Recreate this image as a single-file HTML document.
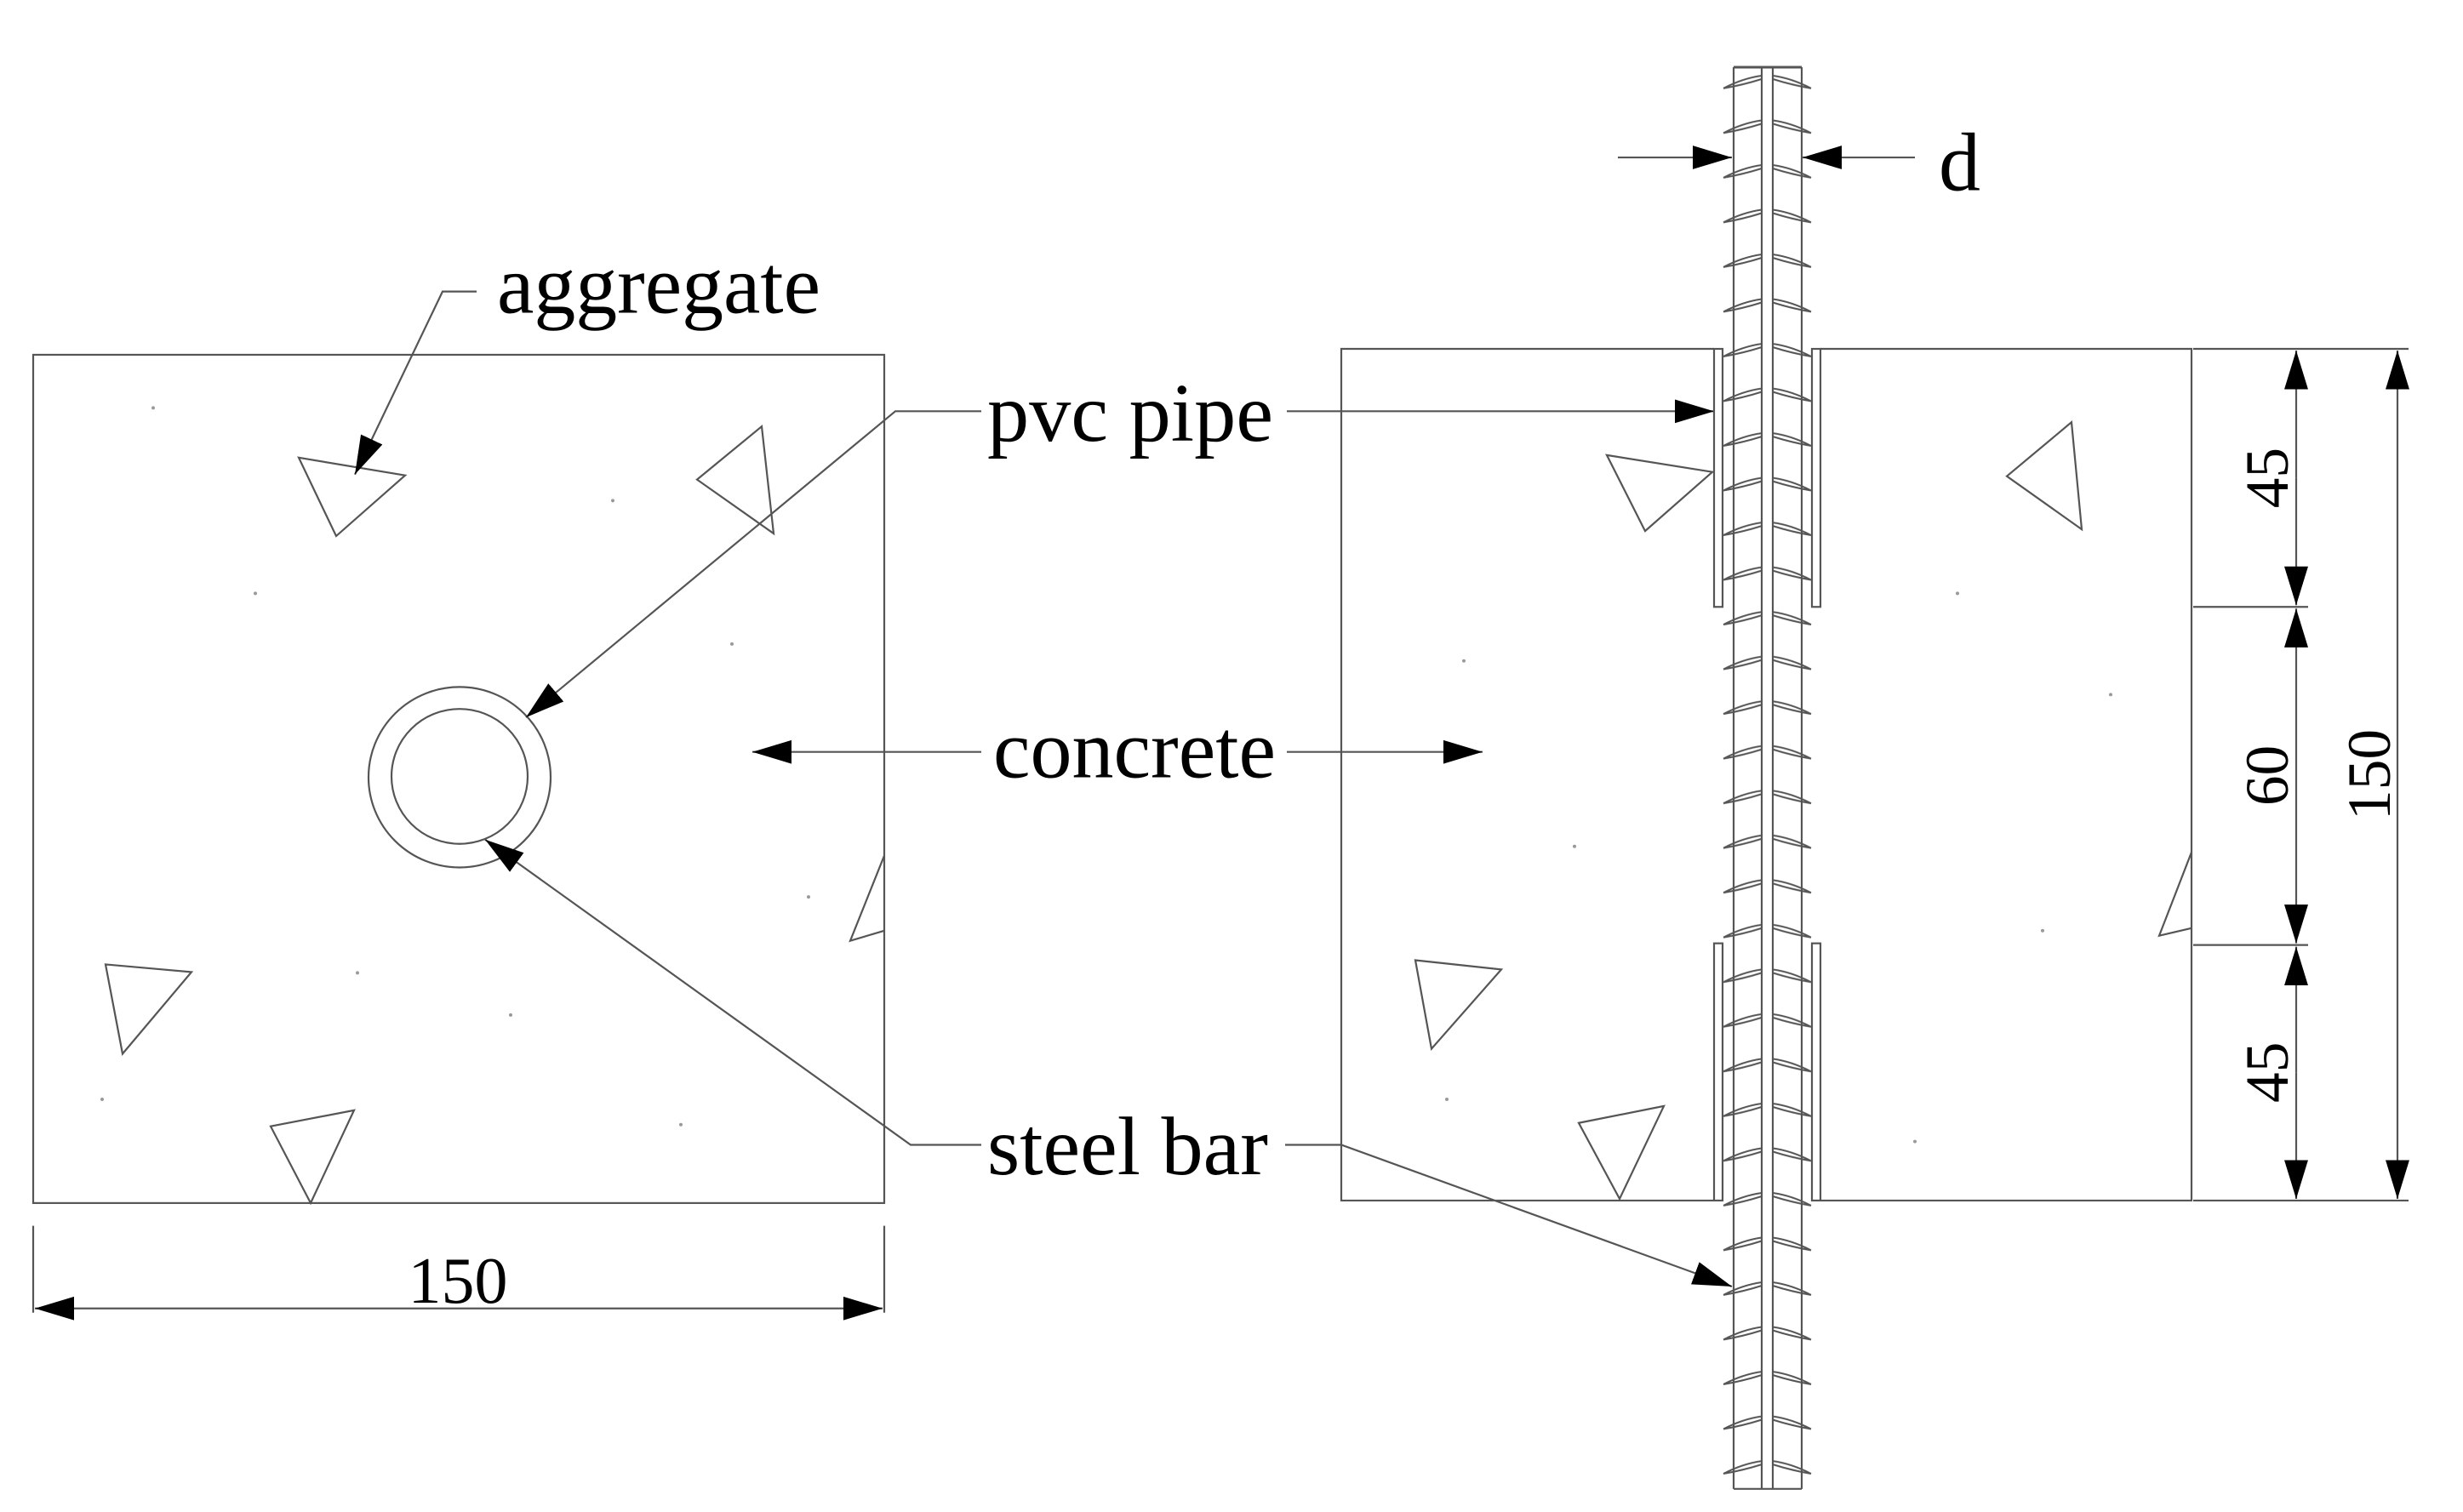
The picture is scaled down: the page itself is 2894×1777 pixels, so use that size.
<!DOCTYPE html>
<html><head><meta charset="utf-8"><style>
html,body{margin:0;padding:0;background:#fff;}
svg{display:block;}
text{font-family:"Liberation Serif","Times New Roman",serif;fill:#000;}
</style></head><body>
<svg width="2894" height="1777" viewBox="0 0 2894 1777" xmlns="http://www.w3.org/2000/svg">
<defs>
<marker id="ah" markerUnits="userSpaceOnUse" viewBox="0 -15 48 30" refX="46" refY="0" markerWidth="48" markerHeight="30" orient="auto">
<path d="M0,-14 L46,0 L0,14 z" fill="#000"/>
</marker>
<pattern id="ribs" patternUnits="userSpaceOnUse" width="120" height="53" patternTransform="translate(2020,80)">
<g fill="none" stroke="#555" stroke-width="2">
<path d="M5,21 Q28,9 50,6 M5,21 Q28,17 50,10"/>
<path d="M63,6 Q85,9 108,21 M63,10 Q85,17 108,21"/>
</g>
</pattern>
</defs>
<rect width="2894" height="1777" fill="#fff"/>
<g transform="translate(0,3.7) scale(1,0.991)">
<g fill="none" stroke="#555" stroke-width="2.2">
<rect x="39" y="417" width="1000" height="1006"/>
<circle cx="540" cy="918" r="107"/>
<circle cx="540" cy="917" r="80"/>
<polygon points="351,539 476,560 395,632"/>
<polygon points="819,565 895,502 909,629"/>
<polygon points="124,1140 225,1149 144,1246"/>
<polygon points="318,1332 416,1313 365,1423"/>
<polyline points="1039,1011 999,1112 1039,1100"/>
<line x1="39" y1="1450" x2="39" y2="1553"/>
<line x1="1039" y1="1450" x2="1039" y2="1553"/>
<line x1="539" y1="1548" x2="41" y2="1548" marker-end="url(#ah)"/>
<line x1="539" y1="1548" x2="1037" y2="1548" marker-end="url(#ah)"/>
<polyline points="560,342 520,342 417,559" marker-end="url(#ah)"/>
<polyline points="1153,484 1052,484 618,847" marker-end="url(#ah)"/>
<line x1="1153" y1="888" x2="884" y2="888" marker-end="url(#ah)"/>
<polyline points="1153,1354 1070,1354 570,992" marker-end="url(#ah)"/>
<line x1="1512" y1="484" x2="2014" y2="484" marker-end="url(#ah)"/>
<line x1="1512" y1="888" x2="1742" y2="888" marker-end="url(#ah)"/>
<polyline points="1510,1354 1576,1354 2035,1522" marker-end="url(#ah)"/>
<polyline points="2014,410 1576,410 1576,1420 2014,1420"/>
<polyline points="2139,410 2575,410 2575,1420 2139,1420"/>
<rect x="2014" y="410" width="10" height="306"/>
<rect x="2129" y="410" width="10" height="306"/>
<rect x="2014" y="1115" width="10" height="305"/>
<rect x="2129" y="1115" width="10" height="305"/>
<polygon points="1888,536 2012,556 1933,626"/>
<polygon points="2358,561 2434,497 2446,624"/>
<polygon points="1663,1135 1764,1146 1682,1240"/>
<polygon points="1855,1328 1955,1308 1903,1418"/>
<polyline points="2575,1007 2537,1106 2575,1097"/>
<line x1="1901" y1="183" x2="2035" y2="183" marker-end="url(#ah)"/>
<line x1="2250" y1="183" x2="2118" y2="183" marker-end="url(#ah)"/>
<line x1="2577" y1="410" x2="2830" y2="410"/>
<line x1="2577" y1="716" x2="2712" y2="716"/>
<line x1="2577" y1="1117" x2="2712" y2="1117"/>
<line x1="2577" y1="1420" x2="2830" y2="1420"/>
<line x1="2698" y1="563" x2="2698" y2="412" marker-end="url(#ah)"/>
<line x1="2698" y1="563" x2="2698" y2="714" marker-end="url(#ah)"/>
<line x1="2698" y1="916" x2="2698" y2="718" marker-end="url(#ah)"/>
<line x1="2698" y1="916" x2="2698" y2="1115" marker-end="url(#ah)"/>
<line x1="2698" y1="1268" x2="2698" y2="1119" marker-end="url(#ah)"/>
<line x1="2698" y1="1268" x2="2698" y2="1418" marker-end="url(#ah)"/>
<line x1="2817" y1="915" x2="2817" y2="412" marker-end="url(#ah)"/>
<line x1="2817" y1="915" x2="2817" y2="1418" marker-end="url(#ah)"/>
</g>
<rect x="2022" y="80" width="120" height="1680" fill="url(#ribs)"/>
<g stroke="#555" stroke-width="2.2" fill="none">
<line x1="2037" y1="76" x2="2037" y2="1762"/>
<line x1="2070" y1="76" x2="2070" y2="1762"/>
<line x1="2083" y1="76" x2="2083" y2="1762"/>
<line x1="2117" y1="76" x2="2117" y2="1762"/>
<line x1="2037" y1="76" x2="2117" y2="76" stroke-width="3"/>
<line x1="2037" y1="1762" x2="2117" y2="1762"/>
</g>
<g fill="#999">
<circle cx="180" cy="480" r="2"/><circle cx="300" cy="700" r="2"/><circle cx="720" cy="590" r="2"/><circle cx="860" cy="760" r="2"/><circle cx="120" cy="1300" r="2"/><circle cx="600" cy="1200" r="2"/><circle cx="950" cy="1060" r="2"/><circle cx="420" cy="1150" r="2"/><circle cx="800" cy="1330" r="2"/>
<circle cx="1720" cy="780" r="2"/><circle cx="1850" cy="1000" r="2"/><circle cx="2300" cy="700" r="2"/><circle cx="2400" cy="1100" r="2"/><circle cx="2250" cy="1350" r="2"/><circle cx="1700" cy="1300" r="2"/><circle cx="2480" cy="820" r="2"/>
</g>
<text x="584" y="367" font-size="98" textLength="380" lengthAdjust="spacingAndGlyphs">aggregate</text>
<text x="1160" y="519" font-size="98" textLength="336" lengthAdjust="spacingAndGlyphs">pvc pipe</text>
<text x="1167" y="918" font-size="98" textLength="332" lengthAdjust="spacingAndGlyphs">concrete</text>
<text x="1160" y="1389" font-size="98" textLength="330" lengthAdjust="spacingAndGlyphs">steel bar</text>
<text x="2278" y="222" font-size="98">d</text>
<text x="538" y="1541" font-size="78" text-anchor="middle">150</text>
<text transform="translate(2688,563) rotate(-90)" font-size="72" text-anchor="middle">45</text>
<text transform="translate(2688,916) rotate(-90)" font-size="72" text-anchor="middle">60</text>
<text transform="translate(2688,1268) rotate(-90)" font-size="72" text-anchor="middle">45</text>
<text transform="translate(2808,915) rotate(-90)" font-size="72" text-anchor="middle">150</text>
</g>
</svg>
</body></html>
